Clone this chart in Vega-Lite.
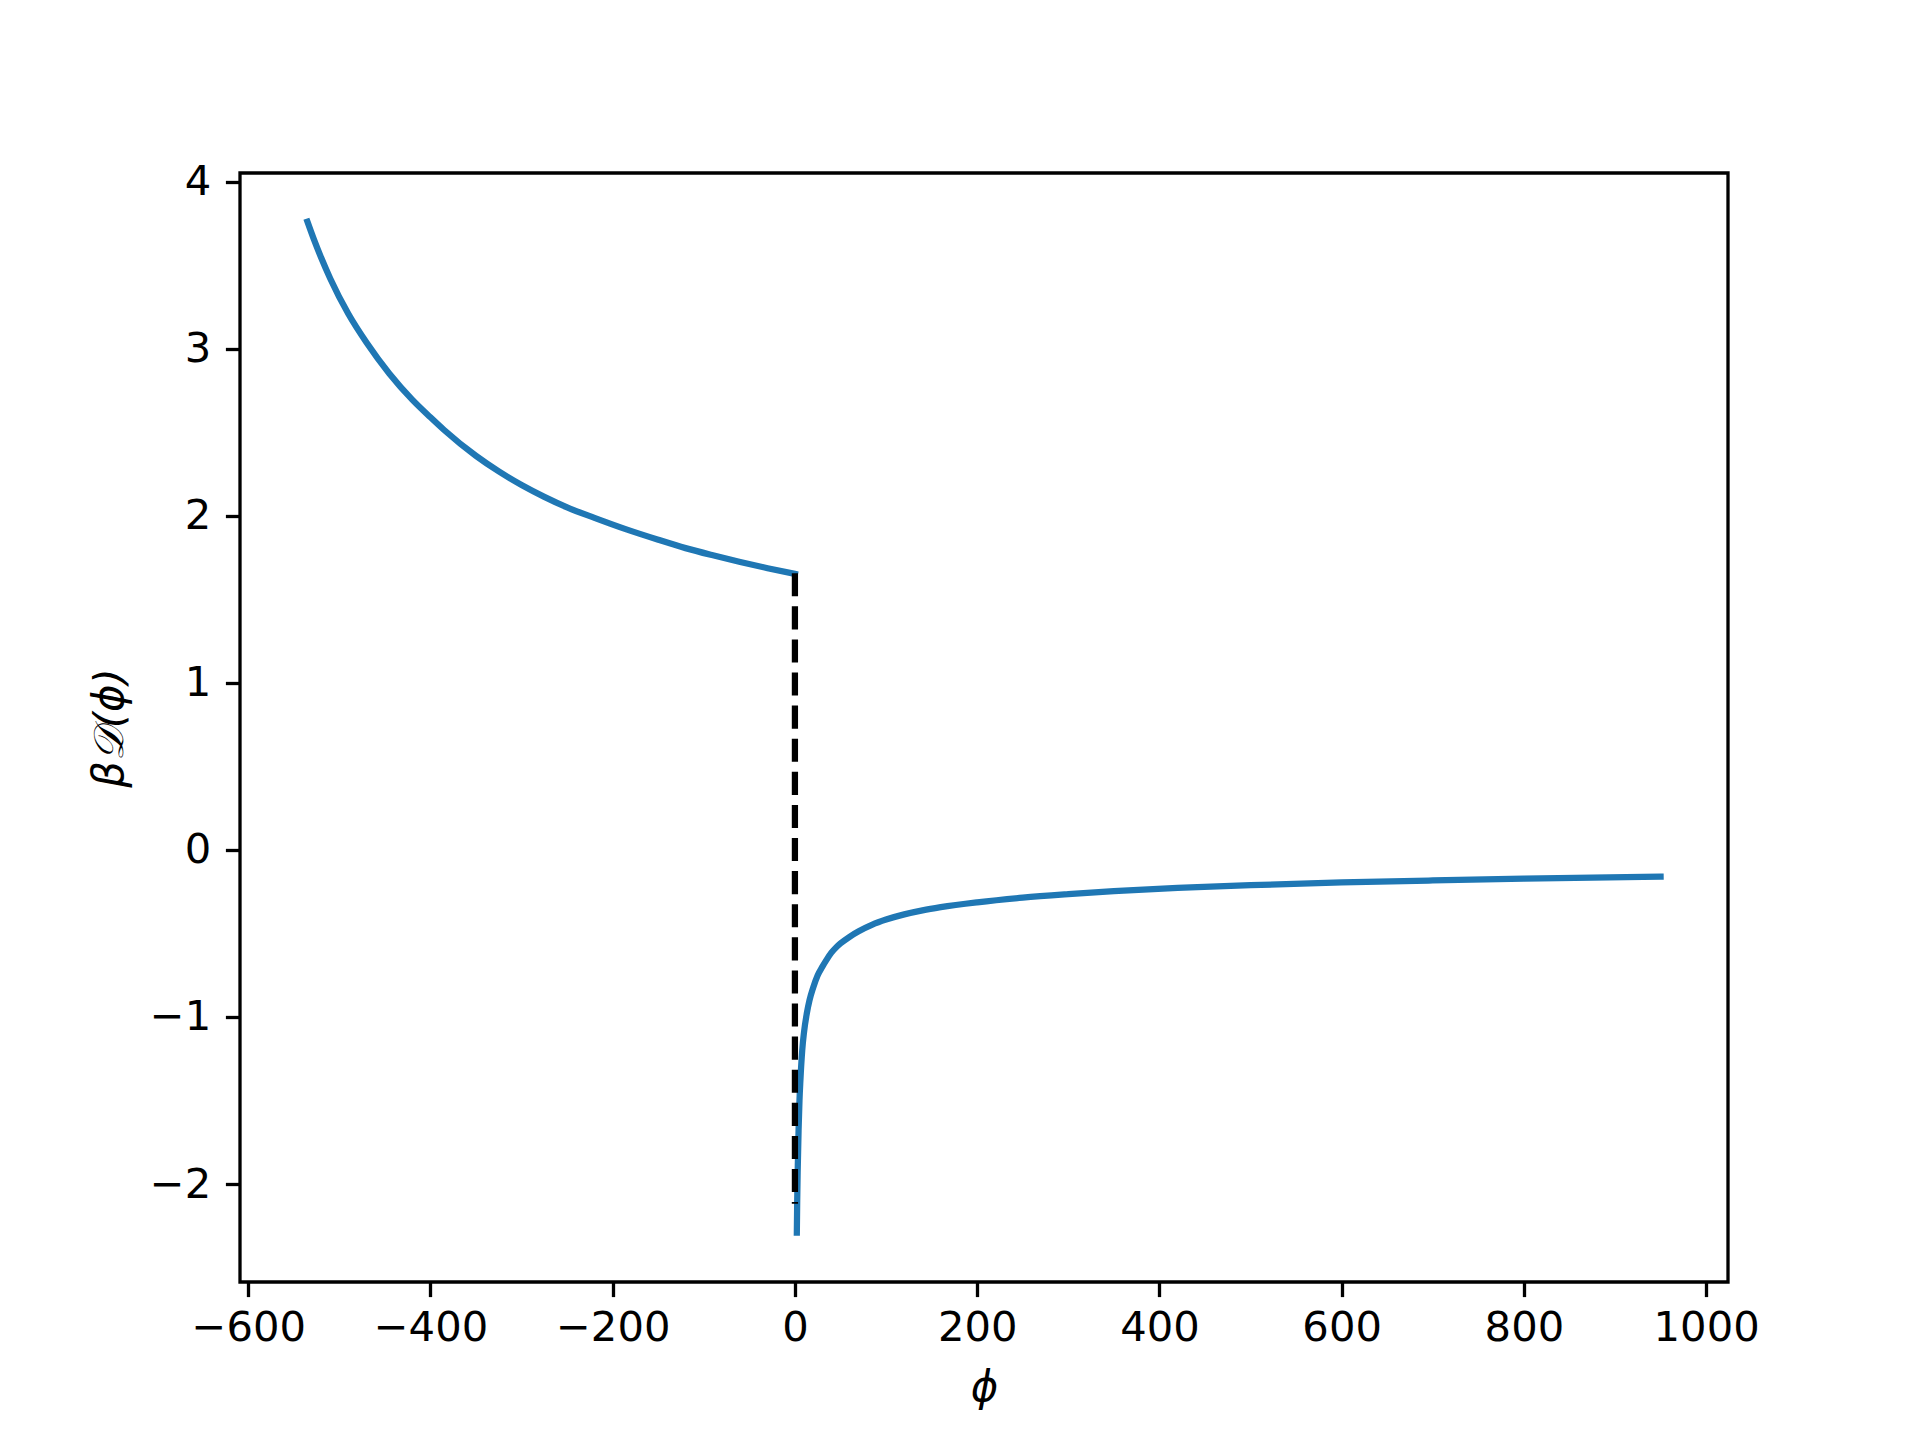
{
  "$schema": "https://vega.github.io/schema/vega-lite/v6.json",
  "width": 1488,
  "height": 1109,
  "autosize": {"type": "none"},
  "padding": {"left": 240, "top": 173, "right": 192, "bottom": 158},
  "background": "white",
  "config": {
    "view": {"stroke": "#000000", "strokeWidth": 3.3},
    "axis": {
      "grid": false,
      "domain": false,
      "tickColor": "#000000",
      "tickWidth": 3.3,
      "tickSize": 14.6,
      "labelFont": "DejaVu Sans",
      "labelFontSize": 41.7,
      "labelColor": "#000000",
      "labelPadding": 14.6,
      "titleFont": "DejaVu Sans",
      "titleFontSize": 41.7,
      "titleFontWeight": "normal",
      "titleFontStyle": "italic",
      "titleColor": "#000000"
    }
  },
  "datasets": {
    "curve": [
      {"branch": "left", "phi": -535, "beta": 3.76},
      {"branch": "left", "phi": -528, "beta": 3.655},
      {"branch": "left", "phi": -520, "beta": 3.545},
      {"branch": "left", "phi": -510, "beta": 3.42},
      {"branch": "left", "phi": -490, "beta": 3.207},
      {"branch": "left", "phi": -470, "beta": 3.035},
      {"branch": "left", "phi": -445, "beta": 2.85},
      {"branch": "left", "phi": -420, "beta": 2.695},
      {"branch": "left", "phi": -400, "beta": 2.589},
      {"branch": "left", "phi": -385, "beta": 2.513},
      {"branch": "left", "phi": -350, "beta": 2.358},
      {"branch": "left", "phi": -325, "beta": 2.265},
      {"branch": "left", "phi": -300, "beta": 2.184},
      {"branch": "left", "phi": -275, "beta": 2.113},
      {"branch": "left", "phi": -250, "beta": 2.05},
      {"branch": "left", "phi": -220, "beta": 1.987},
      {"branch": "left", "phi": -185, "beta": 1.918},
      {"branch": "left", "phi": -150, "beta": 1.856},
      {"branch": "left", "phi": -120, "beta": 1.806},
      {"branch": "left", "phi": -90, "beta": 1.763},
      {"branch": "left", "phi": -60, "beta": 1.723},
      {"branch": "left", "phi": -30, "beta": 1.686},
      {"branch": "left", "phi": 0, "beta": 1.652},
      {"branch": "right", "phi": 2.1, "beta": -2.29},
      {"branch": "right", "phi": 2.5, "beta": -2.10},
      {"branch": "right", "phi": 3, "beta": -1.93},
      {"branch": "right", "phi": 4, "beta": -1.68},
      {"branch": "right", "phi": 5, "beta": -1.50},
      {"branch": "right", "phi": 6, "beta": -1.38},
      {"branch": "right", "phi": 8, "beta": -1.20},
      {"branch": "right", "phi": 10, "beta": -1.09},
      {"branch": "right", "phi": 13, "beta": -0.98},
      {"branch": "right", "phi": 16, "beta": -0.90},
      {"branch": "right", "phi": 20, "beta": -0.825},
      {"branch": "right", "phi": 25, "beta": -0.75},
      {"branch": "right", "phi": 30, "beta": -0.70},
      {"branch": "right", "phi": 35, "beta": -0.655},
      {"branch": "right", "phi": 40, "beta": -0.615},
      {"branch": "right", "phi": 45, "beta": -0.585},
      {"branch": "right", "phi": 50, "beta": -0.56},
      {"branch": "right", "phi": 60, "beta": -0.52},
      {"branch": "right", "phi": 70, "beta": -0.487},
      {"branch": "right", "phi": 85, "beta": -0.447},
      {"branch": "right", "phi": 100, "beta": -0.417},
      {"branch": "right", "phi": 120, "beta": -0.386},
      {"branch": "right", "phi": 140, "beta": -0.362},
      {"branch": "right", "phi": 160, "beta": -0.343},
      {"branch": "right", "phi": 200, "beta": -0.314},
      {"branch": "right", "phi": 250, "beta": -0.286},
      {"branch": "right", "phi": 300, "beta": -0.265},
      {"branch": "right", "phi": 350, "beta": -0.247},
      {"branch": "right", "phi": 420, "beta": -0.228},
      {"branch": "right", "phi": 500, "beta": -0.211},
      {"branch": "right", "phi": 600, "beta": -0.195},
      {"branch": "right", "phi": 700, "beta": -0.183},
      {"branch": "right", "phi": 800, "beta": -0.172},
      {"branch": "right", "phi": 950, "beta": -0.160}
    ],
    "jump": [
      {"phi": 0, "top": 1.656, "bottom": -2.117}
    ]
  },
  "layer": [
    {
      "data": {"name": "curve"},
      "mark": {"type": "line", "color": "#1f77b4", "strokeWidth": 6.25, "strokeCap": "square", "interpolate": "monotone", "clip": true},
      "encoding": {
        "x": {
          "field": "phi", "type": "quantitative",
          "scale": {"domain": [-609, 1024], "nice": false, "zero": false},
          "axis": {"values": [-600, -400, -200, 0, 200, 400, 600, 800, 1000], "format": "d", "title": "ϕ", "labelPadding": 11, "titlePadding": 18}
        },
        "y": {
          "field": "beta", "type": "quantitative",
          "scale": {"domain": [-2.586, 4.051], "nice": false, "zero": false},
          "axis": {"values": [-2, -1, 0, 1, 2, 3, 4], "format": "d", "title": "β𝒟(ϕ)", "titlePadding": 18}
        },
        "detail": {"field": "branch"},
        "order": {"field": "phi", "type": "quantitative"}
      }
    },
    {
      "data": {"name": "jump"},
      "mark": {"type": "rule", "color": "#000000", "strokeWidth": 6.25, "strokeDash": [23.1, 10]},
      "encoding": {
        "x": {"field": "phi", "type": "quantitative"},
        "y": {"field": "top", "type": "quantitative"},
        "y2": {"field": "bottom"}
      }
    }
  ]
}
